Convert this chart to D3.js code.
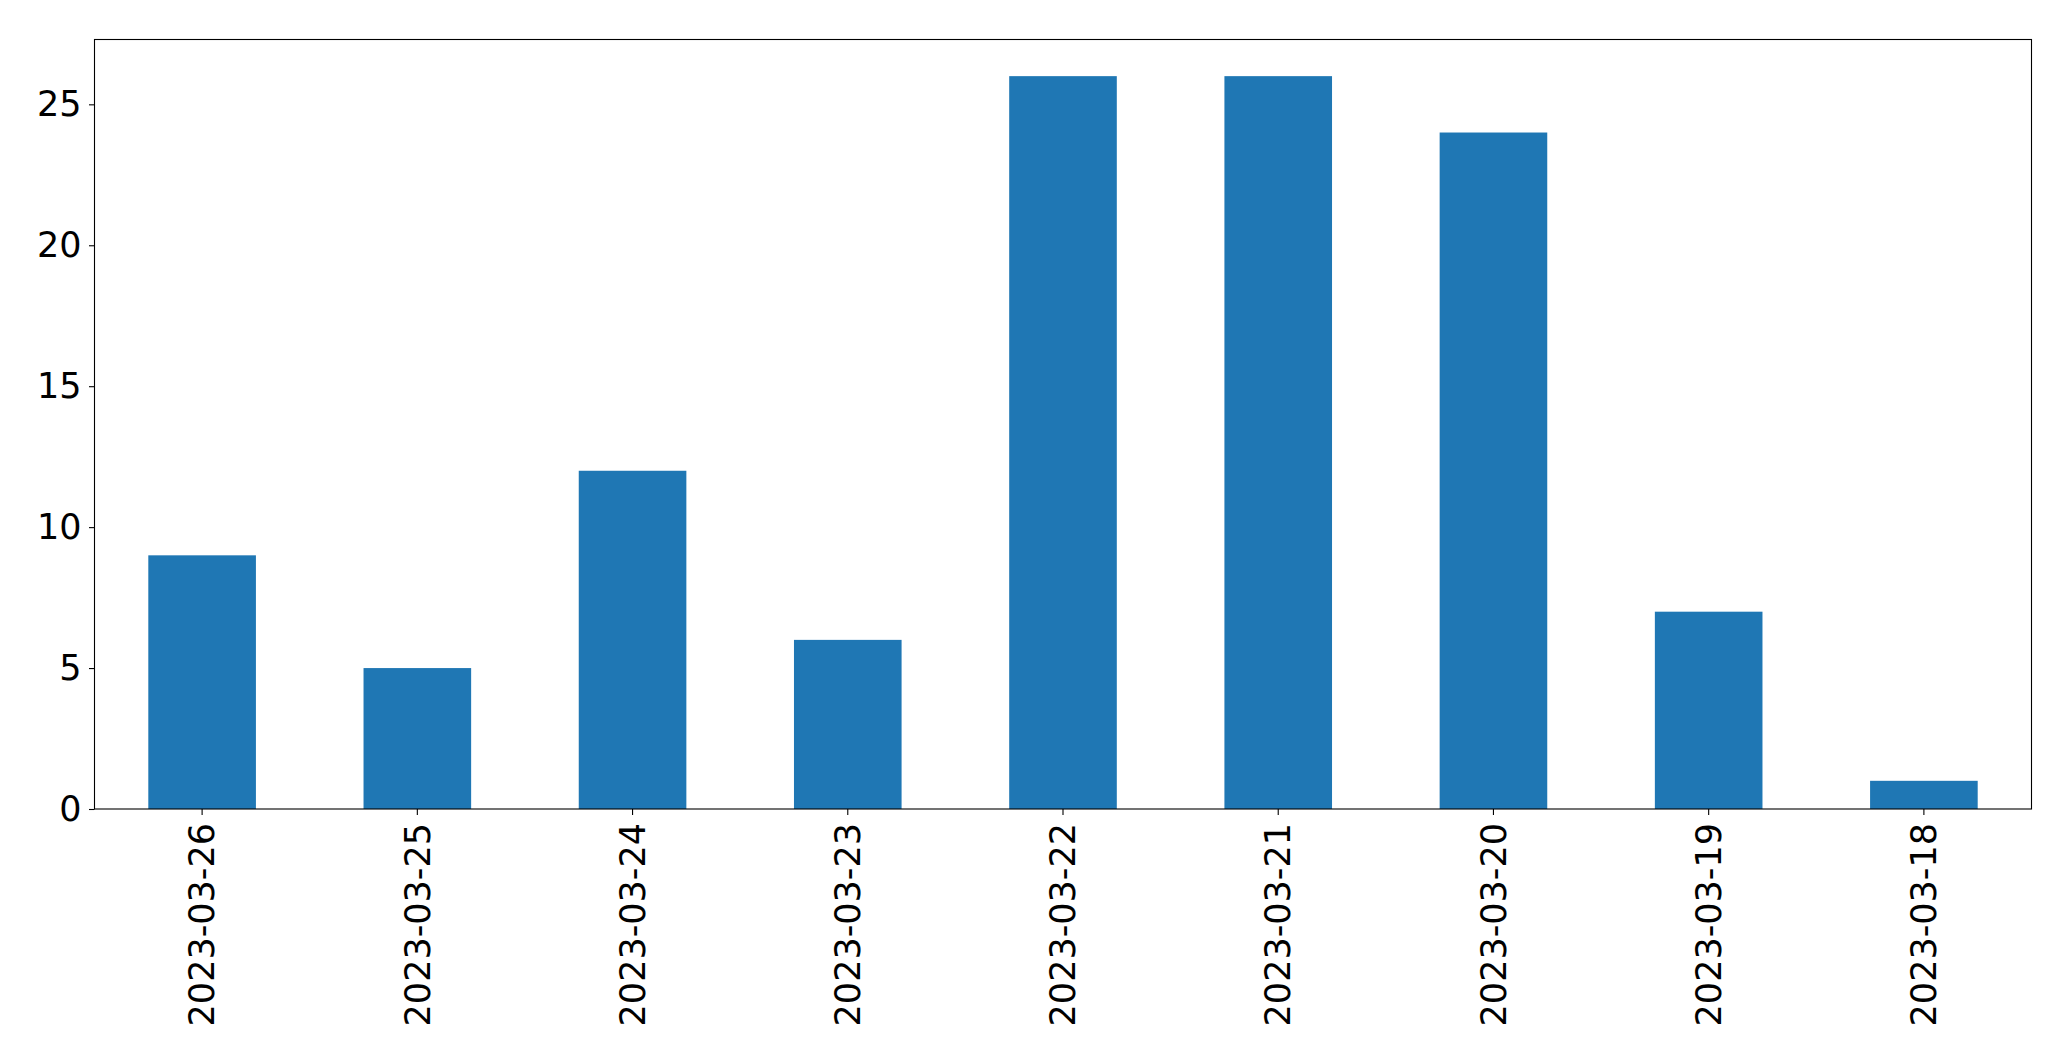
<!DOCTYPE html>
<html>
<head>
<meta charset="utf-8">
<script src="https://cdn.jsdelivr.net/npm/d3@7"></script>
<style>
  html, body { margin: 0; padding: 0; background: #fff; }
  svg { display: block; }
</style>
</head>
<body>
<svg id="chart" width="2071" height="1061"></svg>
<script>
const categories = ["2023-03-26","2023-03-25","2023-03-24","2023-03-23","2023-03-22","2023-03-21","2023-03-20","2023-03-19","2023-03-18"];
const values = [9, 5, 12, 6, 26, 26, 24, 7, 1];
const yTicks = [0, 5, 10, 15, 20, 25];

const svg = d3.select("#chart");
const margin = { left: 94.5, top: 39.5, right: 2031.5, bottom: 809 };
const fontSize = 35;
const fontFamily = "'DejaVu Sans', sans-serif";

const x = d3.scaleBand().domain(categories).range([margin.left, margin.right]).paddingInner(0.5).paddingOuter(0.25);
const y = d3.scaleLinear().domain([0, d3.max(values) * 1.05]).range([margin.bottom, margin.top]);

svg.append("g")
  .selectAll("rect")
  .data(categories)
  .join("rect")
  .attr("x", d => x(d))
  .attr("width", x.bandwidth())
  .attr("y", (d, i) => y(values[i]))
  .attr("height", (d, i) => y(0) - y(values[i]))
  .attr("fill", "#1f77b4");

// frame
svg.append("rect")
  .attr("x", margin.left).attr("y", margin.top)
  .attr("width", margin.right - margin.left).attr("height", margin.bottom - margin.top)
  .attr("fill", "none").attr("stroke", "#000").attr("stroke-width", 1.1);

const yAxis = svg.append("g")
  .attr("transform", `translate(${margin.left},0)`)
  .call(d3.axisLeft(y).tickValues(yTicks).tickSize(5.5).tickPadding(7.5).tickFormat(d3.format("d")));
yAxis.select(".domain").remove();
yAxis.selectAll("text").attr("font-size", fontSize).attr("font-family", fontFamily).attr("fill", "#000");
yAxis.selectAll("line").attr("stroke-width", 1.1);

const xAxis = svg.append("g")
  .attr("transform", `translate(0,${margin.bottom})`)
  .call(d3.axisBottom(x).tickSize(6).tickPadding(9));
xAxis.select(".domain").remove();
xAxis.selectAll("line").attr("stroke-width", 1.1);
xAxis.selectAll("text")
  .attr("font-size", fontSize).attr("font-family", fontFamily).attr("fill", "#000")
  .attr("transform", "rotate(-90)")
  .attr("text-anchor", "end")
  .attr("x", -14)
  .attr("y", 0)
  .attr("dy", "0.35em");
</script>
</body>
</html>
